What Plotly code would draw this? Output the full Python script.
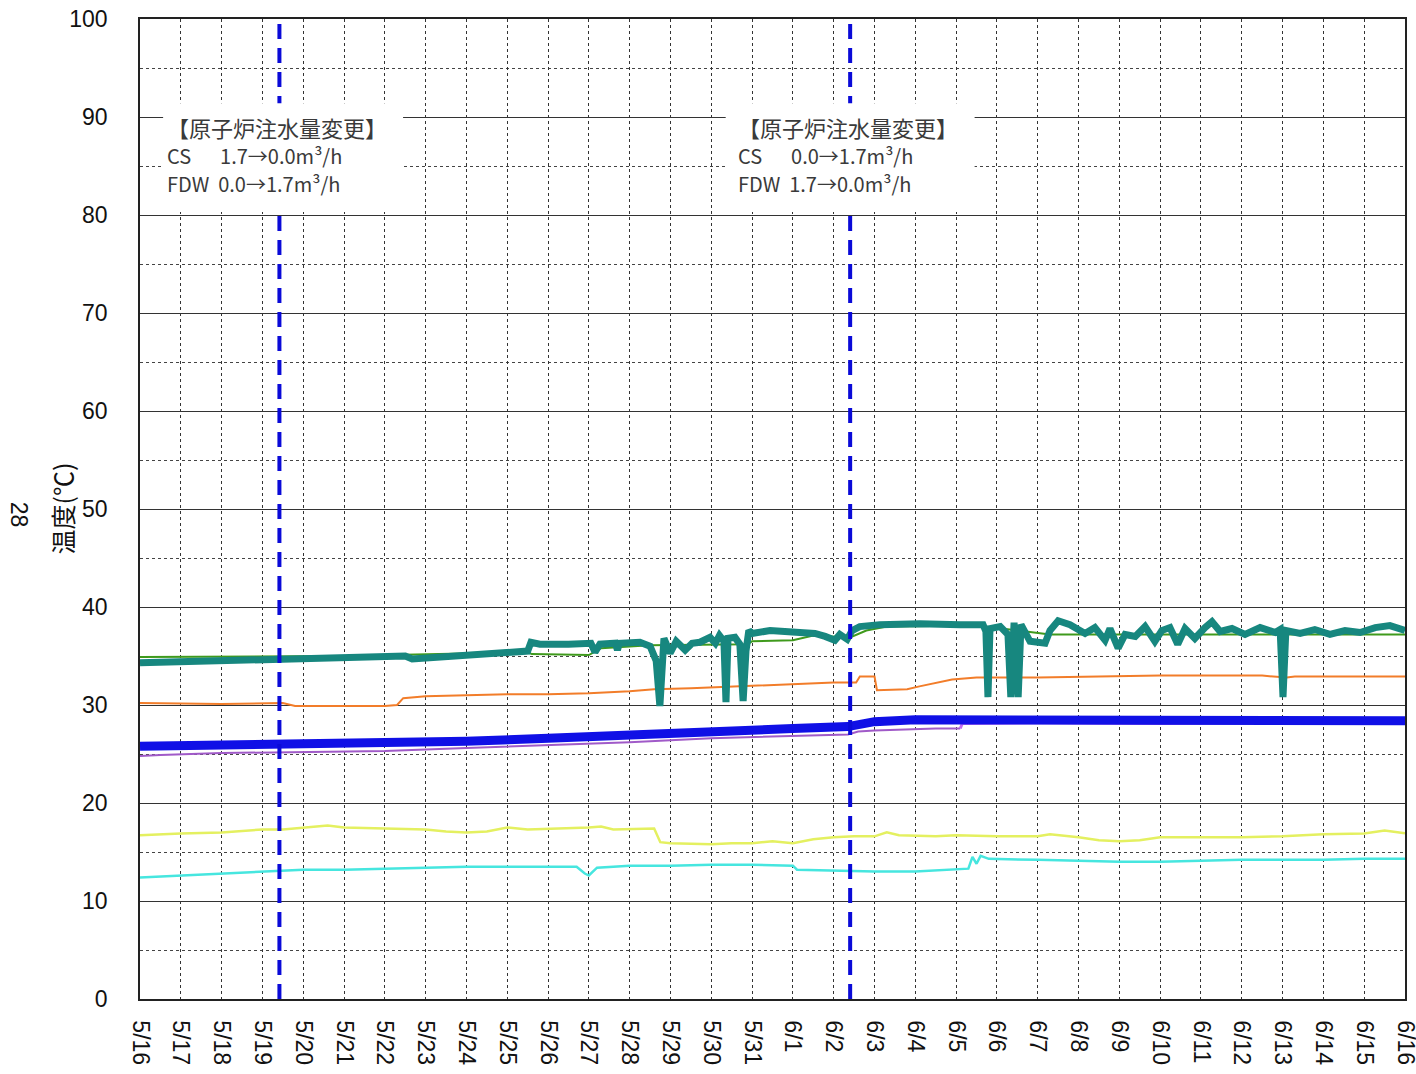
import pandas as pd
import plotly.graph_objects as go

BASE = "2011-05-16"

# ---- data (days since 5/16 00:00, temperature in deg C) ----
teal_days = [0.0, 1.0, 2.0, 3.0, 4.0, 5.0, 6.0, 6.5, 6.67, 7.0, 8.0, 9.0, 9.5, 9.58, 9.8, 10.5, 11.05, 11.15, 11.27,
             11.65, 11.7, 11.75, 12.25, 12.5, 12.65, 12.74, 12.84, 12.99, 13.14, 13.36, 13.53, 13.72, 13.97, 14.1,
             14.2, 14.31, 14.36, 14.41, 14.58, 14.7, 14.78, 14.85, 14.92, 15.0, 15.44, 16.17, 16.54, 16.79, 17.03,
             17.15, 17.33, 17.45, 17.64, 18.13, 19.11, 20.1, 20.66, 20.73, 20.78, 20.83, 21.08, 21.27, 21.34, 21.42,
             21.52, 21.59, 21.81, 22.18, 22.3, 22.5, 22.79, 23.16, 23.4, 23.65, 23.77, 23.97, 24.14, 24.39, 24.63,
             24.87, 25.04, 25.24, 25.43, 25.61, 25.85, 26.1, 26.27, 26.47, 26.76, 27.08, 27.45, 27.82, 27.94, 28.01,
             28.08, 28.43, 28.79, 29.16, 29.53, 29.9, 30.27, 30.63, 31.0]
teal_vals = [34.3, 34.4, 34.5, 34.6, 34.6, 34.7, 34.8, 35.0, 34.7, 34.8, 35.1, 35.4, 35.5, 36.4, 36.2, 36.2, 36.3, 35.4,
             36.2, 36.3, 35.6, 36.3, 36.4, 36.0, 34.5, 29.9, 36.8, 35.3, 36.5, 35.6, 36.3, 36.4, 36.9, 36.3, 37.1,
             36.5, 30.3, 36.8, 36.9, 36.2, 30.4, 35.5, 37.6, 37.3, 37.6, 37.4, 37.3, 37.0, 36.6, 37.2, 36.7, 37.6,
             38.0, 38.2, 38.3, 38.2, 38.2, 37.5, 30.8, 37.8, 38.0, 37.2, 30.8, 38.4, 30.8, 38.2, 36.5, 36.3, 37.6,
             38.6, 38.2, 37.3, 37.9, 36.6, 37.8, 35.8, 37.2, 37.0, 38.0, 36.5, 37.6, 37.9, 36.2, 37.8, 36.8, 37.9,
             38.5, 37.5, 37.8, 37.2, 37.9, 37.4, 37.7, 30.8, 37.6, 37.3, 37.7, 37.2, 37.6, 37.4, 37.9, 38.1, 37.6]

green_days = [0.0, 5.0, 9.5, 9.6, 11.0, 11.3, 12.5, 14.9, 15.0, 16.0, 16.5, 17.4, 17.8, 18.3, 20.5, 21.5, 22.3, 31.0]
green_vals = [34.9, 35.0, 35.4, 35.2, 35.1, 35.8, 36.1, 36.2, 36.5, 36.6, 37.1, 36.9, 37.6, 38.0, 38.1, 37.6, 37.2, 37.2]

orange_days = [0.0, 2.0, 3.5, 3.8, 6.0, 6.3, 6.45, 7.0, 8.0, 9.0, 10.0, 11.0, 12.0, 12.6, 13.5, 14.8, 16.0, 17.0,
               17.55, 17.64, 18.0, 18.06, 18.8, 19.1, 19.9, 20.5, 22.0, 24.0, 25.0, 27.5, 28.1, 28.3, 31.0]
orange_vals = [30.2, 30.1, 30.2, 29.9, 29.9, 30.0, 30.7, 30.9, 31.0, 31.1, 31.1, 31.2, 31.4, 31.6, 31.7, 31.9, 32.1,
               32.3, 32.3, 32.9, 32.9, 31.5, 31.6, 31.9, 32.6, 32.8, 32.8, 32.9, 33.0, 33.0, 32.8, 32.9, 32.9]

purple_days = [0.0, 0.5, 2.0, 4.0, 6.0, 8.0, 10.0, 12.0, 14.0, 16.0, 17.35, 17.6, 18.0, 19.5, 20.1]
purple_vals = [24.8, 24.9, 25.1, 25.2, 25.3, 25.6, 25.9, 26.2, 26.6, 26.8, 27.0, 27.3, 27.4, 27.6, 27.6]

violet_days = [20.1, 20.15, 22.0, 25.0, 28.0, 31.0]
violet_vals = [27.6, 28.1, 28.2, 28.1, 28.2, 28.3]

blue_days = [0.0, 2.0, 4.0, 6.0, 8.0, 10.0, 12.0, 14.0, 16.0, 17.35, 17.5, 18.0, 19.0, 21.0, 23.0, 25.0, 27.0, 29.0, 31.0]
blue_vals = [25.8, 25.9, 25.9, 26.0, 26.3, 26.6, 27.0, 27.3, 27.6, 27.8, 27.9, 28.3, 28.5, 28.5, 28.6, 28.4, 28.4, 28.4, 28.4]

yellow_days = [0.0, 1.0, 2.0, 3.0, 3.5, 4.0, 4.6, 5.0, 6.0, 7.0, 7.5, 8.0, 8.5, 9.0, 9.5, 10.5, 11.0, 11.3, 11.6, 12.6,
               12.75, 13.0, 14.0, 14.5, 15.0, 15.5, 16.0, 16.5, 17.0, 17.5, 18.0, 18.3, 18.6, 19.5, 20.0, 21.0, 22.0,
               22.3, 23.0, 23.5, 24.0, 24.5, 25.0, 26.0, 27.0, 28.0, 29.0, 30.0, 30.5, 31.0]
yellow_vals = [16.7, 16.9, 17.0, 17.3, 17.3, 17.5, 17.7, 17.5, 17.4, 17.3, 17.1, 17.0, 17.1, 17.5, 17.3, 17.4, 17.5,
               17.6, 17.3, 17.4, 16.0, 15.9, 15.8, 15.9, 15.9, 16.1, 15.9, 16.3, 16.5, 16.6, 16.6, 17.0, 16.7, 16.6,
               16.7, 16.6, 16.6, 16.8, 16.5, 16.2, 16.1, 16.2, 16.5, 16.5, 16.5, 16.6, 16.8, 16.9, 17.2, 16.9]

cyan_days = [0.0, 1.0, 2.0, 3.0, 4.0, 5.0, 6.0, 7.0, 8.0, 9.0, 10.0, 10.7, 10.9, 11.0, 11.2, 12.0, 13.0, 14.0, 15.0,
             16.0, 16.1, 17.0, 18.0, 19.0, 20.0, 20.3, 20.4, 20.5, 20.6, 20.8, 22.0, 23.0, 24.0, 25.0, 26.0, 27.0,
             28.0, 29.0, 30.0, 31.0]
cyan_vals = [12.4, 12.6, 12.8, 13.0, 13.2, 13.2, 13.3, 13.4, 13.5, 13.5, 13.5, 13.5, 12.8, 12.6, 13.4, 13.6, 13.6,
             13.7, 13.7, 13.6, 13.2, 13.1, 13.0, 13.0, 13.2, 13.3, 14.5, 13.8, 14.6, 14.3, 14.2, 14.1, 14.0, 14.0,
             14.1, 14.2, 14.2, 14.2, 14.3, 14.3]

event_times = ["2011-05-19 10:00", "2011-06-02 09:40"]
event_titles = ["【原子炉注水量変更】", "【原子炉注水量変更】"]
event_cs = ["CS　  1.7→0.0m³/h", "CS　  0.0→1.7m³/h"]
event_fdw = ["FDW  0.0→1.7m³/h", "FDW  1.7→0.0m³/h"]

y_title = "温度(℃)"
page_no = "28"


def to_time(days):
    return pd.Timestamp(BASE) + pd.to_timedelta(days, unit="D")


fig = go.Figure()

series = [
    (cyan_days, cyan_vals, "#46e6df", 2.5),
    (yellow_days, yellow_vals, "#e4f060", 2.5),
    (purple_days, purple_vals, "#a05ac8", 2),
    (violet_days, violet_vals, "#c46cf0", 3),
    (blue_days, blue_vals, "#1010e6", 9),
    (orange_days, orange_vals, "#f27d2a", 2),
    (green_days, green_vals, "#3f9a1c", 2),
    (teal_days, teal_vals, "#17877f", 7),
]
for d, v, c, w in series:
    fig.add_trace(go.Scatter(x=to_time(d), y=v, mode="lines",
                             line=dict(color=c, width=w), showlegend=False))

shapes = []
for t in event_times:
    shapes.append(dict(type="line", xref="x", yref="paper", x0=t, x1=t, y0=0, y1=1,
                       line=dict(color="#0a0ad8", width=4, dash="15px,9px"), layer="above"))

annotations = []
box_offsets = [(-2.85, 3.03), (-3.05, 3.05)]
for i, t in enumerate(event_times):
    ts = pd.Timestamp(t)
    x0 = ts + pd.Timedelta(days=box_offsets[i][0])
    x1 = ts + pd.Timedelta(days=box_offsets[i][1])
    shapes.append(dict(type="rect", xref="x", yref="y", x0=x0, x1=x1, y0=80.3, y1=91.4,
                       fillcolor="white", line=dict(width=0), layer="above"))
    xt = ts + pd.Timedelta(days=-2.8)
    for txt, yv, sz in [(event_titles[i], 89.0, 22), (event_cs[i], 86.1, 20), (event_fdw[i], 83.2, 20)]:
        annotations.append(dict(x=xt, y=yv, xref="x", yref="y", text=txt, showarrow=False,
                                xanchor="left", yanchor="middle",
                                font=dict(family="Noto Sans CJK JP", size=sz, color="#3a3a3a")))

annotations.append(dict(x=-0.062, y=0.5, xref="paper", yref="paper", text=y_title, textangle=-90,
                        showarrow=False, xanchor="center", yanchor="middle",
                        font=dict(family="Noto Sans CJK JP", size=25, color="#111")))
annotations.append(dict(x=-0.0955, y=0.494, xref="paper", yref="paper", text=page_no, textangle=90,
                        showarrow=False, xanchor="center", yanchor="middle",
                        font=dict(family="Liberation Sans", size=23, color="#111")))

fig.update_layout(
    width=1416, height=1074,
    margin=dict(l=140, r=11, t=19, b=75, autoexpand=False),
    paper_bgcolor="white", plot_bgcolor="white",
    shapes=shapes, annotations=annotations,
    showlegend=False,
)
fig.update_xaxes(
    type="date", range=["2011-05-16", "2011-06-16"], automargin=False,
    dtick=86400000, tick0="2011-05-16", tickformat="%-m/%-d", tickangle=90,
    tickfont=dict(family="Liberation Sans", size=23, color="#111"),
    showgrid=True, gridcolor="#333", gridwidth=1, griddash="dot",
    showline=True, linecolor="#222", linewidth=1.5, mirror=True,
    ticks="", ticklabelstandoff=15, ticklabeloverflow="allow",
)
fig.update_yaxes(
    range=[0, 100], dtick=10, tick0=0, automargin=False,
    tickfont=dict(family="Liberation Sans", size=23, color="#111"),
    showgrid=True, gridcolor="#333", gridwidth=1,
    minor=dict(dtick=5, showgrid=True, gridcolor="#444", griddash="dot", gridwidth=1),
    showline=True, linecolor="#222", linewidth=1.5, mirror=True,
    zeroline=False, ticks="", ticklabelstandoff=26, ticklabeloverflow="allow",
)

# remove the default page margin so the figure fills the window exactly
fig.write_html("out.html", config={"displayModeBar": False},
               post_script="document.body.style.margin='0px';")
